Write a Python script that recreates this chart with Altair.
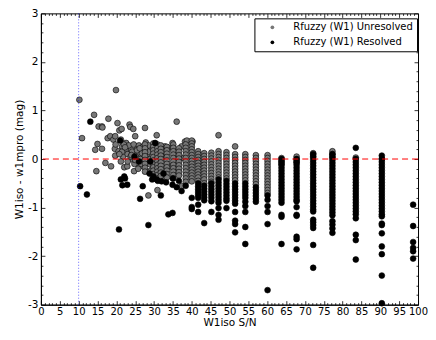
import altair as alt
import pandas as pd

# ---------------- data ----------------
# scattered unresolved (gray) points
unres_x = [10.2, 10.9, 14.1, 14.4, 14.7, 15.0, 15.3, 16.2, 16.3, 16.2, 17.1, 17.9, 17.7, 18.4, 18.6,
           19.2, 19.9, 19.7, 19.6, 19.7, 20.3, 20.6, 20.8, 21.2, 21.4, 21.5, 21.8, 22.1, 22.6, 22.9,
           23.5, 23.7, 23.9, 24.3, 24.5, 24.7, 25.0, 25.4, 25.9, 26.3, 27.6, 27.8, 28.1, 28.5, 30.7,
           30.9, 31.6, 32.5, 32.9, 33.8, 34.9, 36.0, 37.3, 38.2, 38.7, 40.2, 37.3,
           22.5, 23.0, 23.3, 23.8, 24.2, 24.6, 25.2, 25.5, 26.0, 26.4, 26.8, 27.2, 27.5, 21.5, 22.0,
           20.8, 21.2, 19.8, 23.0, 24.8, 25.8, 26.6, 27.0, 28.2, 28.8, 29.2, 29.0, 28.5, 26.2, 24.0,
           22.3, 25.0, 28.6, 29.4, 32.4, 34.2, 37.8]
unres_y = [1.22, 0.43, 0.91, 0.19, -0.25, 0.31, 0.67, 0.67, 0.65, 0.21, -0.08, 0.83, 0.43, 0.47, -0.15,
           0.40, 1.42, 0.47, 0.21, 0.07, 0.74, 0.16, 0.59, 0.40, 0.62, 0.26, 0.05, -0.17, 0.33, -0.15,
           0.71, 0.66, 0.19, -0.01, 0.62, -0.25, 0.47, 0.26, 0.10, -0.15, 0.64, 0.34, -0.25, -0.75, 0.49,
           -0.64, -0.18, -0.42, 0.26, 0.23, 0.33, 0.77, 0.26, 0.36, 0.38, 0.36, -0.56,
           0.20, 0.10, 0.28, 0.05, 0.15, 0.30, 0.05, 0.18, 0.28, 0.00, 0.12, -0.05, 0.20, 0.15, 0.30,
           0.10, -0.05, 0.30, -0.05, -0.10, -0.20, -0.10, 0.25, 0.10, -0.10, 0.20, 0.00, 0.15, 0.22, 0.08,
           0.24, -0.02, 0.28, -0.22, 0.05, -0.15, 0.02]

# unresolved points stacked in columns (x -> y values)
unres_cols = {
    27.6: [0.30, 0.22, 0.14, 0.06, -0.02, -0.10, -0.18, -0.26],
    29.8: [0.32, 0.25, 0.18, 0.11, 0.04, -0.03, -0.10, -0.17, -0.24, -0.31],
    30.9: [0.30, 0.23, 0.16, 0.09, 0.02, -0.05, -0.12, -0.19, -0.26, -0.33, -0.40],
    31.8: [0.28, 0.21, 0.14, 0.07, 0.00, -0.07, -0.14, -0.21, -0.28, -0.35],
    33.4: [0.25, 0.18, 0.11, 0.04, -0.03, -0.10, -0.17, -0.24, -0.31, -0.38],
    35.1: [0.30, 0.23, 0.16, 0.09, 0.02, -0.05, -0.12, -0.19, -0.26, -0.33, -0.40],
    36.6: [0.22, 0.15, 0.08, 0.01, -0.06, -0.13, -0.20, -0.27, -0.34],
    38.4: [0.30, 0.23, 0.16, 0.09, 0.02, -0.05, -0.12, -0.19, -0.26, -0.33, -0.40, -0.47],
    40.0: [0.38, 0.32, 0.26, 0.20, 0.14, 0.08, 0.02, -0.04, -0.10, -0.16, -0.22, -0.28, -0.34, -0.40, -0.46],
    41.7: [0.16, 0.10, 0.04, -0.02, -0.08, -0.14, -0.20, -0.26, -0.32, -0.38, -0.45],
    43.3: [0.12, 0.06, 0.00, -0.06, -0.12, -0.18, -0.24, -0.30, -0.36, -0.42, -0.50],
    45.2: [0.13, 0.07, 0.01, -0.05, -0.11, -0.17, -0.23, -0.29, -0.35, -0.41, -0.47],
    47.1: [0.49, 0.16, 0.10, 0.04, -0.02, -0.08, -0.14, -0.20, -0.26, -0.32, -0.38],
    49.2: [0.14, 0.08, 0.02, -0.04, -0.10, -0.16, -0.22, -0.28, -0.34, -0.40],
    51.5: [0.26, 0.10, 0.04, -0.02, -0.08, -0.14, -0.20, -0.26, -0.32, -0.38, -0.44],
    54.2: [0.10, 0.04, -0.02, -0.08, -0.14, -0.20, -0.26, -0.32, -0.38, -0.44],
    57.0: [0.08, 0.02, -0.04, -0.10, -0.16, -0.22, -0.28, -0.34, -0.40, -0.46, -0.52],
    60.1: [0.08, 0.02, -0.04, -0.10, -0.16, -0.22, -0.28, -0.34, -0.40, -0.46, -0.52, -0.58, -0.64, -0.70],
    63.8: [0.02, -0.04, -0.10],
    67.8: [0.05, -0.01, -0.07],
    72.2: [0.12, 0.06],
    77.3: [0.16, 0.10, 0.04],
    83.5: [0.03],
    90.4: [0.00],
}

# scattered resolved (black) points
res_x = [10.4, 12.2, 13.1, 20.7, 21.2, 21.6, 22.1, 22.3, 22.9, 21.0, 26.3, 27.0, 28.5, 30.3, 31.8,
         32.0, 33.8, 34.9, 34.9, 36.0, 37.3, 30.7, 29.8, 28.8, 29.5, 31.0, 32.5, 33.2, 35.0, 36.6,
         38.4, 26.0, 24.8, 29.0]
res_y = [-0.56, -0.73, 0.77, -1.45, -0.42, -0.54, -0.36, -0.40, -0.53, 0.38, -0.82, -0.56, -1.36, 0.33, -0.75,
         -0.46, -1.14, -1.11, -0.53, -0.58, -0.66, -0.42, -0.36, -0.30, -0.42, -0.45, -0.30, -0.48, -0.40, -0.45,
         -0.55, -0.05, 0.05, -0.05]

# resolved points stacked in columns (x -> y values)
res_cols = {
    40.0: [-0.80, -0.99, -1.03],
    41.7: [-0.50, -0.56, -0.62, -0.68, -0.74, -0.80, -0.94, -1.09],
    43.3: [-0.55, -0.61, -0.67, -0.73, -0.79, -0.85, -1.32],
    45.2: [-0.50, -0.56, -0.62, -0.68, -0.74, -0.80, -0.87, -1.09],
    47.1: [-0.42, -0.48, -0.54, -0.60, -0.66, -0.72, -0.78, -0.84, -0.90, -1.01, -1.15, -1.25],
    49.2: [-0.45, -0.51, -0.57, -0.63, -0.69, -0.75, -0.81, -0.86, -1.01],
    51.5: [-0.50, -0.56, -0.62, -0.68, -0.74, -0.80, -0.86, -0.92, -1.09, -1.27, -1.34, -1.51],
    54.2: [-0.50, -0.56, -0.62, -0.68, -0.74, -0.80, -0.88, -0.97, -1.09, -1.40, -1.75],
    57.0: [-0.58, -0.64, -0.70, -0.76, -0.82, -0.88],
    60.1: [-0.75, -0.84, -0.97, -1.09, -1.34, -2.70],
    63.8: [0.00, -0.06, -0.12, -0.18, -0.24, -0.30, -0.36, -0.42, -0.48, -0.54, -0.60, -0.66, -0.72,
           -0.78, -0.84, -0.90, -1.15, -1.19, -1.75],
    67.8: [0.00, -0.06, -0.12, -0.18, -0.24, -0.30, -0.36, -0.42, -0.48, -0.54, -0.60, -0.66, -0.72,
           -0.78, -0.84, -0.87, -0.99, -1.15, -1.17, -1.60, -1.65, -1.86],
    72.2: [0.10, 0.04, -0.02, -0.08, -0.14, -0.20, -0.26, -0.32, -0.38, -0.44, -0.50, -0.56, -0.62,
           -0.68, -0.74, -0.80, -0.86, -0.92, -0.98, -1.04, -1.08, -1.25, -1.30, -1.36, -1.42, -1.77, -2.24],
    77.3: [0.10, 0.04, -0.02, -0.08, -0.14, -0.20, -0.26, -0.32, -0.38, -0.44, -0.50, -0.56, -0.62,
           -0.68, -0.74, -0.80, -0.86, -0.92, -0.98, -1.04, -1.10, -1.16, -1.28, -1.35, -1.43, -1.52],
    83.5: [0.23, 0.00, -0.06, -0.12, -0.18, -0.24, -0.30, -0.36, -0.42, -0.48, -0.54, -0.60, -0.66,
           -0.72, -0.78, -0.84, -0.90, -0.96, -1.02, -1.08, -1.14, -1.22, -1.56, -1.67, -2.07],
    90.4: [0.07, 0.00, -0.06, -0.12, -0.18, -0.24, -0.30, -0.36, -0.42, -0.48, -0.54, -0.60, -0.66,
           -0.72, -0.78, -0.84, -0.90, -0.96, -1.02, -1.08, -1.14, -1.18, -1.33, -1.36, -1.53, -1.80,
           -1.96, -2.40, -2.97],
    98.7: [-0.94, -1.38, -1.71, -1.83, -1.90, -2.05],
}

labels = ["Rfuzzy (W1) Unresolved", "Rfuzzy (W1) Resolved"]
x_major = list(range(0, 101, 5))
x_minor = [v for v in range(0, 101) if v % 5 != 0]
y_major = [-3, -2, -1, 0, 1, 2, 3]
y_minor = [round(-3 + 0.2 * i, 1) for i in range(31) if i % 5 != 0]

# ---------------- table ----------------
rows = []
for x, y in zip(unres_x, unres_y):
    rows.append({"sn": x, "dmag": y, "cls": labels[0], "ord": 0})
for x, ys in unres_cols.items():
    for y in ys:
        rows.append({"sn": x, "dmag": y, "cls": labels[0], "ord": 0})
for x, y in zip(res_x, res_y):
    rows.append({"sn": x, "dmag": y, "cls": labels[1], "ord": 1})
for x, ys in res_cols.items():
    for y in ys:
        rows.append({"sn": x, "dmag": y, "cls": labels[1], "ord": 1})
df = pd.DataFrame(rows)

xs = alt.Scale(domain=[0, 100], nice=False, zero=False)
ys_ = alt.Scale(domain=[-3, 3], nice=False, zero=False)
FONT = "DejaVu Sans"
FS = 10.5

common_axis = dict(ticks=False, grid=False, domainColor="black", titleFontSize=FS,
                   titleFontWeight="normal", labelFont=FONT, titleFont=FONT, labelColor="black",
                   titleColor="black", labelFlush=False,
                   labelExpr="replace(datum.label, '\u2212', '-')")

points = alt.Chart(df).mark_circle(size=34, stroke="black", strokeWidth=0.6, opacity=1).encode(
    x=alt.X("sn:Q", scale=xs, axis=alt.Axis(values=x_major, title="W1iso S/N", labelPadding=2,
                                            labelFontSize=10, titlePadding=1, **common_axis)),
    y=alt.Y("dmag:Q", scale=ys_, axis=alt.Axis(values=y_major, title="W1iso - w1mpro (mag)",
                                               labelFontSize=FS, labelPadding=3, titlePadding=3,
                                               **common_axis)),
    color=alt.Color("cls:N", scale=alt.Scale(domain=labels, range=["#777777", "#000000"]),
                    legend=alt.Legend(title=None, orient="none", legendX=214, legendY=5,
                                      strokeColor="black", fillColor="white", padding=4,
                                      symbolSize=14, symbolType="circle", symbolStrokeWidth=0,
                                      symbolOffset=9, labelOffset=16,
                                      labelFontSize=10, labelFont=FONT, labelColor="black",
                                      rowPadding=5, offset=0, cornerRadius=0)),
    order=alt.Order("ord:Q"),
)

hline = alt.Chart(pd.DataFrame({"y": [0]})).mark_rule(color="red", strokeDash=[6, 4], strokeWidth=1).encode(
    y=alt.Y("y:Q", scale=ys_, axis=None))
vline = alt.Chart(pd.DataFrame({"x": [10]})).mark_rule(color="blue", strokeDash=[1, 2], strokeWidth=1, opacity=0.6).encode(
    x=alt.X("x:Q", scale=xs, axis=None))

anchor = pd.DataFrame({"x": [0], "y": [0]})


def tick_layer(xorient, yorient, xvals, yvals, size):
    return alt.Chart(anchor).mark_point(opacity=0).encode(
        x=alt.X("x:Q", scale=xs, axis=alt.Axis(orient=xorient, values=xvals, labels=False, domain=False,
                                               grid=False, title=None, tickSize=size, offset=-size,
                                               tickColor="black", tickWidth=0.8)),
        y=alt.Y("y:Q", scale=ys_, axis=alt.Axis(orient=yorient, values=yvals, labels=False, domain=False,
                                                grid=False, title=None, tickSize=size, offset=-size,
                                                tickColor="black", tickWidth=0.8)),
    )


t1 = tick_layer("bottom", "left", x_major, y_major, 4)
t2 = tick_layer("top", "right", x_major, y_major, 4)
t3 = tick_layer("bottom", "left", x_minor, y_minor, 2)
t4 = tick_layer("top", "right", x_minor, y_minor, 2)

chart = alt.layer(points, hline, vline, t1, t2, t3, t4).resolve_axis(
    x="independent", y="independent"
).properties(
    width=378, height=292,
    autosize=alt.AutoSizeParams(type="none"),
    padding={"left": 33, "top": 5, "right": 10, "bottom": 26},
).configure_view(stroke="black", strokeWidth=1)

chart.save("out.html", embed_options={"renderer": "svg", "actions": False})
